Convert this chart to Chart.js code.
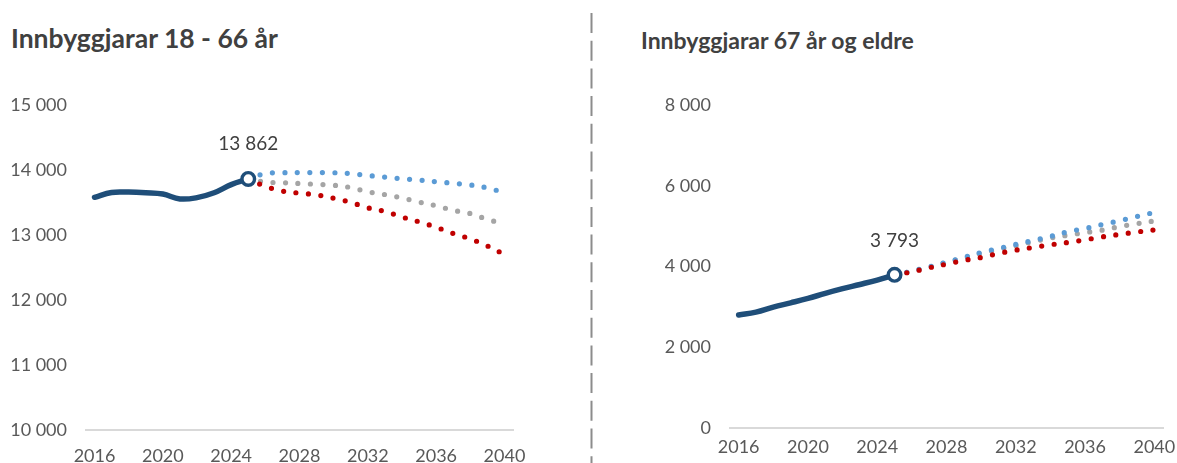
<!DOCTYPE html>
<html><head><meta charset="utf-8">
<script src="https://cdn.jsdelivr.net/npm/chart.js@4.4.1/dist/chart.umd.min.js"></script>
<style>
html,body{margin:0;padding:0;background:#fff;width:1177px;height:463px;overflow:hidden;}
.title{position:absolute;font-family:Lato,sans-serif;font-weight:bold;color:#404040;white-space:nowrap;}
canvas{position:absolute;}
</style></head><body>
<div class="title" style="left:11px;top:25px;font-size:26.5px;line-height:26px">Innbyggjarar 18 - 66 år</div>
<div class="title" style="left:641px;top:29px;font-size:23px;line-height:23px">Innbyggjarar 67 år og eldre</div>
<svg style="position:absolute;left:0;top:0" width="1177" height="463"><line x1="591.5" y1="13" x2="591.5" y2="463" stroke="#8c8c8c" stroke-width="2" stroke-dasharray="20 7.7"/></svg>
<canvas id="c1" width="580" height="463" style="left:0;top:0"></canvas>
<canvas id="c2" width="577" height="463" style="left:600px;top:0"></canvas>
<script>
// ---- data ----
const years = ['2016','2017','2018','2019','2020','2021','2022','2023','2024','2025','2026','2027','2028','2029','2030','2031','2032','2033','2034','2035','2036','2037','2038','2039','2040'];
// 18-66 år
const hist18 = [13580, 13655, 13660, 13650, 13630, 13555, 13575, 13650, 13775, 13862];
const high18 = [13862, 13945, 13958, 13960, 13960, 13958, 13945, 13915, 13890, 13865, 13845, 13820, 13795, 13770, 13725, 13650];
const mid18  = [13862, 13815, 13805, 13792, 13780, 13765, 13730, 13665, 13622, 13570, 13507, 13450, 13380, 13330, 13240, 13170];
const low18  = [13862, 13750, 13676, 13644, 13617, 13566, 13502, 13418, 13363, 13277, 13203, 13119, 13024, 12940, 12832, 12700];
// 67 år og eldre
const hist67 = [2800, 2870, 2995, 3100, 3210, 3335, 3450, 3555, 3665, 3793];
const high67 = [3793, 3886, 3993, 4109, 4224, 4348, 4447, 4546, 4645, 4744, 4860, 4942, 5040, 5135, 5240, 5340];
const mid67  = [3793, 3880, 3985, 4100, 4210, 4325, 4420, 4515, 4615, 4705, 4775, 4840, 4900, 4990, 5060, 5130];
const low67  = [3793, 3870, 3969, 4059, 4150, 4224, 4323, 4406, 4472, 4538, 4596, 4662, 4735, 4795, 4855, 4905];
const tickYears = ['2016','2020','2024','2028','2032','2036','2040'];

function fmt(v){ return String(Math.round(v)).replace(/\B(?=(\d{3})+(?!\d))/g, ' '); }
function padHist(h){ return h.concat(new Array(years.length - h.length).fill(null)); }
function padProj(p){ return new Array(years.length - p.length).fill(null).concat(p); }

const pointLabel = {
  id: 'pointLabel',
  afterDatasetsDraw(chart, args, opts) {
    const meta = chart.getDatasetMeta(0);
    const idx = opts.index;
    const el = meta.data[idx];
    const v = chart.data.datasets[0].data[idx];
    const ctx = chart.ctx;
    ctx.save();
    ctx.font = '19px Lato';
    ctx.fillStyle = '#404040';
    ctx.textAlign = 'center';
    ctx.textBaseline = 'middle';
    ctx.fillText(fmt(v), el.x, el.y - opts.dy);
    ctx.restore();
  }
};

function makeChart(id, hist, low, high, mid, yMin, yMax, step, yWidth, xHeight, xPad, padRight, dy) {
  const markIdx = hist.length - 1;
  const dotted = (data, color) => ({
    data: padProj(data), borderColor: color, borderWidth: 5.2, borderDash: [0, 12.5],
    borderCapStyle: 'round', pointRadius: 0, tension: 0.4, fill: false
  });
  return new Chart(document.getElementById(id), {
    type: 'line',
    data: {
      labels: years,
      datasets: [
        { data: padHist(hist), borderColor: '#1f4e79', borderWidth: 5.5, borderCapStyle: 'round', tension: 0.4,
          pointRadius: c => c.dataIndex === markIdx ? 6.3 : 0, pointBorderWidth: 3.4,
          pointBackgroundColor: '#ffffff', pointBorderColor: '#1f4e79', pointHoverRadius: 0, fill: false },
        dotted(low, '#c00000'),
        dotted(high, '#5b9bd5'),
        dotted(mid, '#a5a5a5')
      ]
    },
    options: {
      responsive: false, animation: false, devicePixelRatio: 1,
      layout: { padding: { top: 105, right: padRight, bottom: 0, left: 0 } },
      plugins: { legend: { display: false }, tooltip: { enabled: false }, pointLabel: { index: markIdx, dy: dy } },
      scales: {
        x: {
          type: 'category', offset: true,
          grid: { display: false, drawTicks: false },
          border: { display: true, color: '#d9d9d9', width: 2 },
          ticks: { autoSkip: false, maxRotation: 0, color: '#595959', font: { family: 'Lato', size: 18 }, padding: xPad,
            callback(v) { const l = this.getLabelForValue(v); return tickYears.includes(l) ? l : ''; } },
          afterFit(s) { s.height = xHeight; s.paddingLeft = 0; s.paddingRight = 0; }
        },
        y: {
          min: yMin, max: yMax,
          grid: { display: false, drawTicks: false },
          border: { display: false },
          ticks: { stepSize: step, padding: 19, color: '#595959', font: { family: 'Lato', size: 18 }, callback: v => fmt(v) },
          afterFit(s) { s.width = yWidth; s.paddingTop = 0; s.paddingBottom = 0; }
        }
      }
    },
    plugins: [pointLabel]
  });
}

document.fonts.load('18px Lato').then(() => document.fonts.load('bold 26px Lato')).catch(()=>{}).then(() => {
  makeChart('c1', hist18, low18, high18, mid18, 10000, 15000, 1000, 86, 33, 15, 67, 35);
  makeChart('c2', hist67, low67, high67, mid67, 0, 8000, 2000, 130, 35, 8, 14, 34);
});
</script>
</body></html>
